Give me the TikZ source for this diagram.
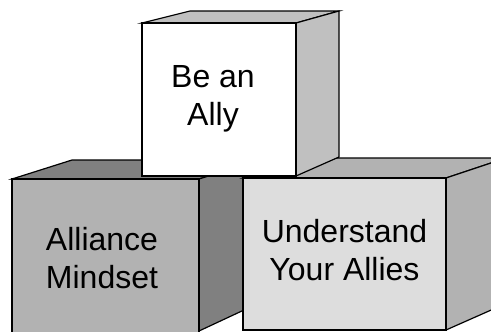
\documentclass[tikz,border=0pt]{standalone}
\usepackage{fontspec}
\setmainfont{Liberation Sans}
\begin{document}
\begin{tikzpicture}[x=1bp,y=-1bp,line width=1.2bp,line join=miter,
                    blocktext/.style={align=center,inner sep=0pt,anchor=base,
                                      font=\fontsize{32bp}{38bp}\selectfont}]

                    \useasboundingbox (0,0) rectangle (491,331);
                    \clip (0,0) rectangle (491,331);

                    % left block
                    \draw[fill={rgb,255:red,128;green,128;blue,128}] (12,179)--(72,160)--(259,160)--(199,179)--cycle;
                    \draw[fill={rgb,255:red,128;green,128;blue,128}] (199,179)--(259,160)--(259,303)--(199,331)--cycle;
                    \draw[fill={rgb,255:red,178;green,178;blue,178}] (12,179) rectangle (199,340);

                    % right block
                    \draw[fill={rgb,255:red,178;green,178;blue,178}] (243,178)--(303,158)--(506,158)--(446,178)--cycle;
                    \draw[fill={rgb,255:red,178;green,178;blue,178}] (446,178)--(506,158)--(507,303)--(446,330)--cycle;
                    \draw[fill={rgb,255:red,221;green,221;blue,221}] (243,178) rectangle (446,330);

                    % top block
                    \draw[fill={rgb,255:red,192;green,192;blue,192}] (142,23)--(190,11)--(339,11)--(296,23)--cycle;
                    \draw[fill={rgb,255:red,192;green,192;blue,192}] (296,23)--(339,11)--(339,157)--(296,176)--cycle;
                    \draw[fill=white] (142,23) rectangle (296,176);

                    \node[blocktext] (ally) at (213,125) {Be an\\Ally};
                    \node[blocktext] (mindset) at (102,288) {Alliance\\Mindset};
                    \node[blocktext] (allies) at (344.5,280.7) {Understand\\Your Allies};

\end{tikzpicture}
\end{document}
